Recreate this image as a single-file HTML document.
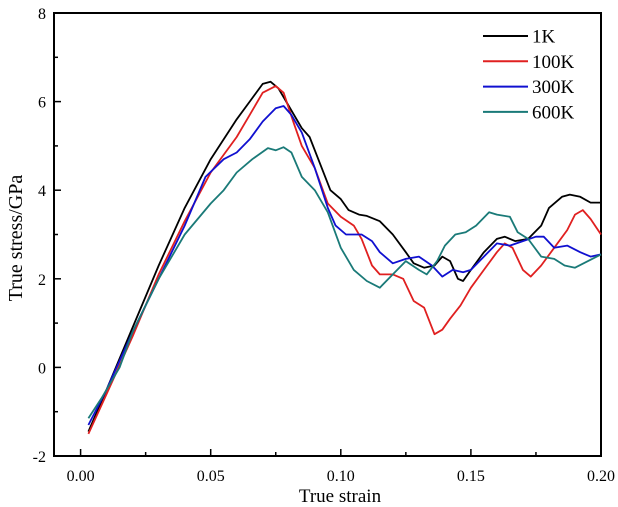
<!DOCTYPE html>
<html><head><meta charset="utf-8"><style>
body{margin:0;background:#fff}
svg{display:block;font-family:"Liberation Serif",serif}
</style></head><body>
<svg id="chart" width="618" height="507"></svg>
<script>
const strain1K=[0.003,0.01,0.02,0.03,0.04,0.05,0.06,0.065,0.07,0.073,0.076,0.08,0.085,0.088,0.092,0.096,0.1,0.103,0.107,0.11,0.115,0.12,0.125,0.128,0.132,0.136,0.139,0.142,0.145,0.147,0.15,0.155,0.16,0.163,0.167,0.172,0.177,0.18,0.185,0.188,0.192,0.196,0.2];
const stress1K=[-1.45,-0.5,0.9,2.3,3.6,4.7,5.6,6.0,6.4,6.45,6.3,5.9,5.4,5.2,4.6,4.0,3.8,3.55,3.45,3.42,3.3,3.0,2.6,2.35,2.25,2.3,2.5,2.4,2.0,1.95,2.2,2.6,2.9,2.95,2.85,2.9,3.2,3.6,3.85,3.9,3.85,3.72,3.72];
const strain100K=[0.003,0.01,0.02,0.03,0.04,0.05,0.06,0.065,0.07,0.075,0.078,0.082,0.085,0.09,0.095,0.1,0.105,0.108,0.112,0.115,0.12,0.124,0.128,0.132,0.136,0.139,0.142,0.146,0.15,0.155,0.16,0.163,0.166,0.17,0.173,0.177,0.182,0.187,0.19,0.193,0.196,0.2];
const stress100K=[-1.5,-0.6,0.7,2.1,3.3,4.4,5.2,5.7,6.2,6.35,6.2,5.5,5.0,4.5,3.7,3.4,3.2,2.9,2.3,2.1,2.1,2.0,1.5,1.35,0.75,0.85,1.1,1.4,1.8,2.2,2.6,2.8,2.7,2.2,2.05,2.3,2.7,3.1,3.45,3.55,3.35,3.0];
const strain300K=[0.003,0.01,0.02,0.03,0.04,0.048,0.055,0.06,0.065,0.07,0.075,0.078,0.081,0.085,0.09,0.095,0.098,0.102,0.108,0.112,0.115,0.12,0.125,0.13,0.135,0.139,0.143,0.147,0.15,0.155,0.16,0.165,0.17,0.175,0.178,0.182,0.187,0.192,0.196,0.2];
const stress300K=[-1.3,-0.5,0.8,2.0,3.2,4.3,4.7,4.85,5.15,5.55,5.85,5.9,5.7,5.3,4.5,3.6,3.2,3.0,3.0,2.85,2.6,2.35,2.45,2.5,2.3,2.05,2.2,2.15,2.2,2.5,2.8,2.75,2.85,2.95,2.95,2.7,2.75,2.6,2.5,2.55];
const strain600K=[0.003,0.008,0.015,0.02,0.03,0.04,0.05,0.055,0.06,0.066,0.072,0.075,0.078,0.081,0.085,0.09,0.095,0.1,0.105,0.11,0.115,0.12,0.125,0.13,0.133,0.137,0.14,0.144,0.148,0.152,0.157,0.16,0.165,0.168,0.172,0.177,0.182,0.186,0.19,0.195,0.2];
const stress600K=[-1.15,-0.7,0.0,0.8,2.0,3.0,3.7,4.0,4.4,4.7,4.95,4.9,4.97,4.85,4.3,4.0,3.5,2.7,2.2,1.95,1.8,2.1,2.4,2.2,2.1,2.4,2.75,3.0,3.05,3.2,3.5,3.45,3.4,3.05,2.9,2.5,2.45,2.3,2.25,2.4,2.55];
const xTicks=["0.00","0.05","0.10","0.15","0.20"];
const yTicks=["-2","0","2","4","6","8"];
const seriesNames=["1K","100K","300K","600K"];

const NS="http://www.w3.org/2000/svg";
const svg=document.getElementById('chart');
const L=54,R=601,T=13,B=456;
const X0=80.6,XS=(601-80.6)/0.2;
const xs=v=>X0+v*XS;
const ys=v=>B-(v+2)/10*(B-T);
function mk(tag,attrs,parent){const e=document.createElementNS(NS,tag);for(const k in attrs)e.setAttribute(k,attrs[k]);(parent||svg).appendChild(e);return e;}

const frame=mk('rect',{x:L,y:T,width:R-L,height:B-T,fill:'none',stroke:'#000','stroke-width':2});



for(let i=0;i<=8;i++){
  const v=i*0.025,x=xs(v),major=i%2===0;
  const t=mk('line',{x1:x,x2:x,y1:B,y2:B-(major?7:4),stroke:'#000','stroke-width':1.5});
  
  
}
xTicks.forEach(s=>{
  const t=mk('text',{x:xs(parseFloat(s)),y:481,'font-size':16,'text-anchor':'middle'});
  t.textContent=s;
  
  
});
for(let v=-2;v<=8;v++){
  const y=ys(v),major=v%2===0;
  const t=mk('line',{x1:L,x2:L+(major?7:4),y1:y,y2:y,stroke:'#000','stroke-width':1.5});
  
  
}
yTicks.forEach(s=>{
  const t=mk('text',{x:46,y:ys(parseFloat(s))+6,'font-size':16,'text-anchor':'end'});
  t.textContent=s;
  
  
});
const xt=mk('text',{x:340,y:502,'font-size':19,'text-anchor':'middle'});
xt.textContent='True strain';


const yt=mk('text',{x:0,y:0,'font-size':20,'text-anchor':'middle',transform:'translate(22,238) rotate(-90)'});
yt.textContent='True stress/GPa';



const colors=['#000000','#e02020','#1010d0','#1a7a78'];
const data=[[strain1K,stress1K],[strain100K,stress100K],[strain300K,stress300K],[strain600K,stress600K]];
data.forEach((d,i)=>{
  const pts=d[0].map((x,j)=>xs(x).toFixed(1)+','+ys(d[1][j]).toFixed(1)).join(' ');
  const p=mk('polyline',{points:pts,fill:'none',stroke:colors[i],'stroke-width':1.8,'stroke-linejoin':'round'});
  
  
  const ly=36+i*25.3;
  const ll=mk('line',{x1:483,x2:528,y1:ly,y2:ly,stroke:colors[i],'stroke-width':2});
  
  
  const lt=mk('text',{x:532,y:ly+6.5,'font-size':19});
  lt.textContent=seriesNames[i];
  
  
});
</script>
</body></html>
